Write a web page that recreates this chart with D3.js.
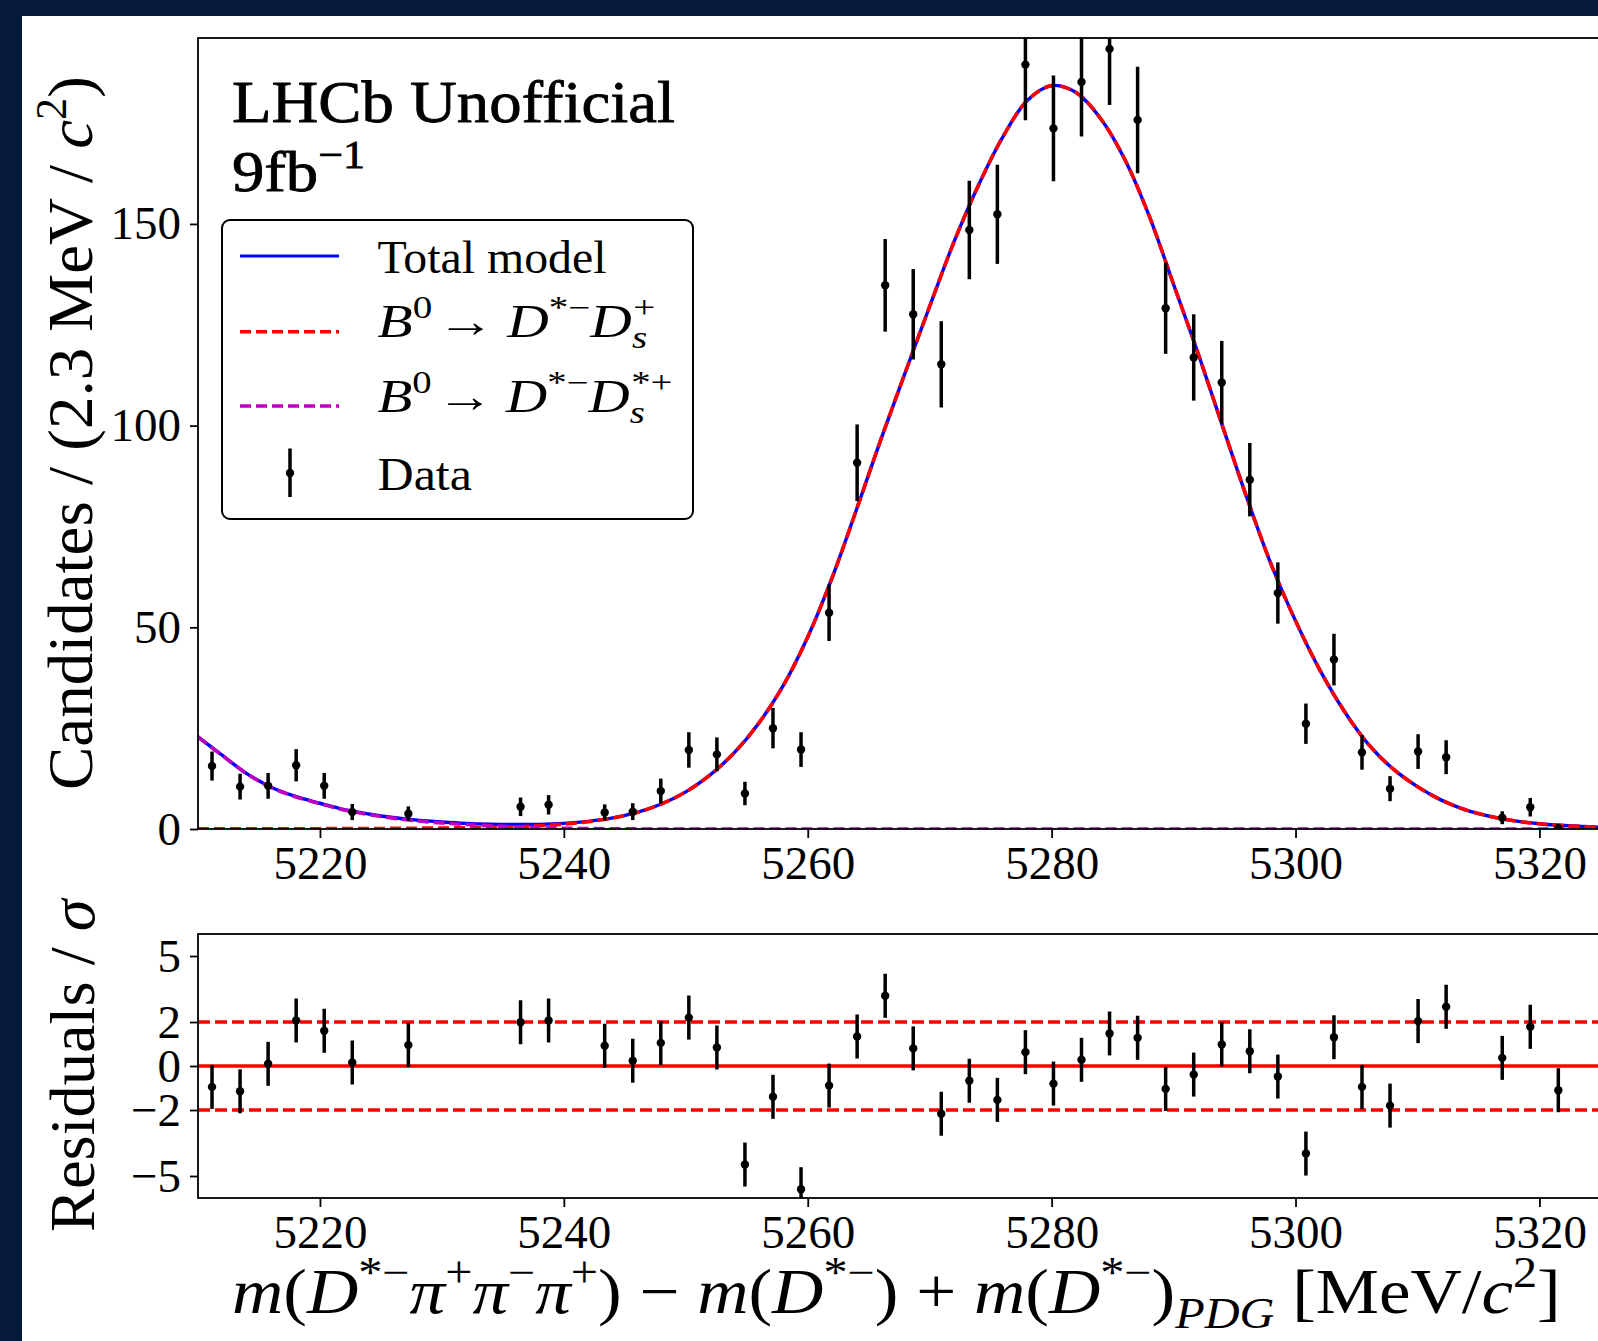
<!DOCTYPE html>
<html>
<head>
<meta charset="utf-8">
<script src="https://cdn.jsdelivr.net/npm/d3@7"></script>
<style>
  body { margin: 0; padding: 0; background: #061a3c; }
  svg { display: block; }
</style>
</head>
<body>
<svg id="chart" width="1598" height="1341"></svg>
<script>
// ---------------- DATA ----------------
// Bin centres (MeV/c^2) of non-empty bins, 2.3 MeV bins from 5210 to 5325
const massCenters = [5211.15, 5213.45, 5215.75, 5218.05, 5220.35, 5222.65, 5227.25,
  5236.45, 5238.75, 5243.35, 5245.65, 5247.95, 5250.25, 5252.55, 5254.85, 5257.15,
  5259.45, 5261.75, 5264.05, 5266.35, 5268.65, 5270.95, 5273.25, 5275.55, 5277.85,
  5280.15, 5282.45, 5284.75, 5287.05, 5289.35, 5291.65, 5293.95, 5296.25, 5298.55,
  5300.85, 5303.15, 5305.45, 5307.75, 5310.05, 5312.35, 5316.95, 5319.25, 5321.55];
const candidates = [15.6, 10.5, 10.7, 15.8, 10.7, 4.2, 3.8,
  5.5, 6.0, 4.1, 4.3, 9.4, 19.6, 18.5, 8.8, 25.0,
  19.7, 53.6, 90.8, 134.8, 127.6, 115.2, 148.5, 152.4, 189.5,
  173.7, 185.2, 193.4, 175.8, 129.1, 116.9, 110.7, 86.6, 58.5,
  26.1, 42.0, 19.0, 10.0, 19.2, 17.8, 2.8, 5.4, 0.2];
const candidateErr = [3.6, 3.2, 3.2, 4.0, 3.2, 2.0, 1.8,
  2.3, 2.4, 2.0, 2.1, 3.1, 4.4, 4.2, 2.9, 5.0,
  4.3, 7.0, 9.5, 11.5, 11.2, 10.7, 12.2, 12.3, 13.8,
  13.1, 13.5, 13.9, 13.2, 11.3, 10.7, 10.3, 9.1, 7.6,
  5.0, 6.4, 4.3, 3.1, 4.3, 4.2, 1.6, 2.3, 0.0];
const residuals = [-0.95, -1.15, 0.10, 2.07, 1.60, 0.16, 0.95,
  1.99, 2.07, 0.92, 0.24, 1.05, 2.20, 0.84, -4.48, -1.40,
  -5.60, -0.89, 1.34, 3.19, 0.80, -2.17, -0.67, -1.54, 0.63,
  -0.80, 0.28, 1.48, 1.28, -1.04, -0.39, 0.98, 0.67, -0.48,
  -3.98, 1.31, -0.95, -1.80, 2.04, 2.69, 0.37, 1.78, -1.10];
const residualErr = 1.0;

// Model curves
const modelMass = [5210, 5212, 5214, 5216, 5218, 5220, 5222, 5224, 5226, 5228,
  5230, 5232, 5234, 5236, 5238, 5240, 5242, 5244, 5246, 5248,
  5250, 5252, 5254, 5256, 5258, 5260, 5262, 5264, 5266, 5268,
  5270, 5272, 5274, 5276, 5278, 5280, 5282, 5284, 5286, 5288,
  5290, 5292, 5294, 5296, 5298, 5300, 5302, 5304, 5306, 5308,
  5310, 5312, 5314, 5316, 5318, 5320, 5322, 5324, 5325];
const signalModel = [0.02, 0.03, 0.04, 0.05, 0.06, 0.08, 0.1, 0.12, 0.15, 0.2,
  0.25, 0.3, 0.4, 0.55, 0.8, 1.2, 1.8, 2.7, 4.1, 6.2,
  9.2, 13.4, 19.0, 26.3, 35.6, 47.6, 62.3, 79.2, 96.6, 113.2,
  129.6, 145.6, 159.6, 171.6, 180.6, 184.3, 182.6, 176.2, 166.0, 152.0,
  135.0, 118.0, 100.0, 82.2, 65.6, 51.6, 39.4, 29.2, 20.9, 14.9,
  10.5, 7.1, 4.7, 3.1, 2.0, 1.3, 0.85, 0.55, 0.45];
const partRecoModel = [22.8, 18.2, 13.7, 10.3, 8.0, 6.3, 4.7, 3.6, 2.7, 2.0,
  1.5, 1.1, 0.8, 0.55, 0.35, 0.2, 0.1, 0.05, 0.02, 0,
  0, 0, 0, 0, 0, 0, 0, 0, 0, 0,
  0, 0, 0, 0, 0, 0, 0, 0, 0, 0,
  0, 0, 0, 0, 0, 0, 0, 0, 0, 0,
  0, 0, 0, 0, 0, 0, 0, 0, 0];
const totalModel = [22.82, 18.23, 13.74, 10.35, 8.06, 6.38, 4.8, 3.72, 2.85, 2.2,
  1.75, 1.4, 1.2, 1.1, 1.15, 1.4, 1.9, 2.75, 4.12, 6.2,
  9.2, 13.4, 19.0, 26.3, 35.6, 47.6, 62.3, 79.2, 96.6, 113.2,
  129.6, 145.6, 159.6, 171.6, 180.6, 184.3, 182.6, 176.2, 166.0, 152.0,
  135.0, 118.0, 100.0, 82.2, 65.6, 51.6, 39.4, 29.2, 20.9, 14.9,
  10.5, 7.1, 4.7, 3.1, 2.0, 1.3, 0.85, 0.55, 0.45];

const xTicks = [5220, 5240, 5260, 5280, 5300, 5320];
const yMainTicks = [0, 50, 100, 150];
const yResTicks = [-5, -2, 0, 2, 5];
const residualBands = [-2, 2];

// ---------------- LAYOUT ----------------
const FONT = '"Liberation Serif", "DejaVu Serif", serif';
const svg = d3.select("#chart");
const W = 1598, H = 1341;

svg.append("rect").attr("width", W).attr("height", H).attr("fill", "#061a3c");
svg.append("rect").attr("x", 22).attr("y", 16).attr("width", W - 22).attr("height", H - 16).attr("fill", "#ffffff");

const x = d3.scaleLinear().domain([5210, 5325]).range([198, 1600.4]);
const yM = d3.scaleLinear().domain([0, 196.1]).range([829, 38]);
const yR = d3.scaleLinear().domain([-6, 6]).range([1198, 934]);

const defs = svg.append("defs");
defs.append("clipPath").attr("id", "clipMain").append("rect")
  .attr("x", x.range()[0]).attr("y", yM.range()[1])
  .attr("width", x.range()[1] - x.range()[0]).attr("height", yM.range()[0] - yM.range()[1]);
defs.append("clipPath").attr("id", "clipRes").append("rect")
  .attr("x", x.range()[0]).attr("y", yR.range()[1])
  .attr("width", x.range()[1] - x.range()[0]).attr("height", yR.range()[0] - yR.range()[1]);

const fmtMinus = d => (d < 0 ? "\u2212" + Math.abs(d) : String(d));

function styleAxis(g) {
  g.select(".domain").remove();
  g.selectAll(".tick line").attr("stroke", "#000").attr("stroke-width", 1.8);
  g.selectAll(".tick text").attr("fill", "#000").attr("font-family", FONT).attr("font-size", 47);
}

const MARK_R = 4.2, ERR_W = 3.5;

// ---------- main panel ----------
const gMain = svg.append("g");
gMain.append("g").attr("transform", `translate(0,${yM.range()[0]})`)
  .call(d3.axisBottom(x).tickValues(xTicks).tickSize(9).tickPadding(8).tickFormat(d3.format("d")))
  .call(styleAxis);
gMain.append("g").attr("transform", `translate(${x.range()[0]},0)`)
  .call(d3.axisLeft(yM).tickValues(yMainTicks).tickSize(8).tickPadding(9).tickFormat(fmtMinus))
  .call(styleAxis);

const plotMain = gMain.append("g").attr("clip-path", "url(#clipMain)");
const modelPts = (arr) => modelMass.map((m, i) => ({ m, v: arr[i] }));
const lineM = d3.line().x(d => x(d.m)).y(d => yM(d.v)).curve(d3.curveCatmullRom.alpha(0.5));

plotMain.append("path").datum(modelPts(totalModel)).attr("d", lineM)
  .attr("fill", "none").attr("stroke", "#0000ff").attr("stroke-width", 3.4);
plotMain.append("path").datum(modelPts(signalModel)).attr("d", lineM)
  .attr("fill", "none").attr("stroke", "#ff0000").attr("stroke-width", 3.6)
  .attr("stroke-dasharray", "11,5");
plotMain.append("path").datum(modelPts(partRecoModel)).attr("d", lineM)
  .attr("fill", "none").attr("stroke", "#bf00bf").attr("stroke-width", 3.6)
  .attr("stroke-dasharray", "11,5");

const dataPts = massCenters.map((m, i) => ({ m, v: candidates[i], e: candidateErr[i], r: residuals[i] }));
plotMain.selectAll("line.err").data(dataPts).join("line").attr("class", "err")
  .attr("x1", d => x(d.m)).attr("x2", d => x(d.m))
  .attr("y1", d => yM(d.v - d.e)).attr("y2", d => yM(d.v + d.e))
  .attr("stroke", "#000").attr("stroke-width", ERR_W);
plotMain.selectAll("circle.pt").data(dataPts).join("circle").attr("class", "pt")
  .attr("cx", d => x(d.m)).attr("cy", d => yM(d.v)).attr("r", MARK_R).attr("fill", "#000");

gMain.append("rect").attr("x", x.range()[0]).attr("y", yM.range()[1])
  .attr("width", x.range()[1] - x.range()[0]).attr("height", yM.range()[0] - yM.range()[1])
  .attr("fill", "none").attr("stroke", "#000").attr("stroke-width", 1.8);

// ---------- residual panel ----------
const gRes = svg.append("g");
gRes.append("g").attr("transform", `translate(0,${yR.range()[0]})`)
  .call(d3.axisBottom(x).tickValues(xTicks).tickSize(9).tickPadding(8).tickFormat(d3.format("d")))
  .call(styleAxis);
gRes.append("g").attr("transform", `translate(${x.range()[0]},0)`)
  .call(d3.axisLeft(yR).tickValues(yResTicks).tickSize(8).tickPadding(9).tickFormat(fmtMinus))
  .call(styleAxis);

const plotRes = gRes.append("g").attr("clip-path", "url(#clipRes)");
plotRes.append("line").attr("x1", x.range()[0]).attr("x2", x.range()[1])
  .attr("y1", yR(0)).attr("y2", yR(0)).attr("stroke", "#ff0000").attr("stroke-width", 3.6);
plotRes.selectAll("line.band").data(residualBands).join("line").attr("class", "band")
  .attr("x1", x.range()[0]).attr("x2", x.range()[1])
  .attr("y1", d => yR(d)).attr("y2", d => yR(d))
  .attr("stroke", "#ff0000").attr("stroke-width", 3.6).attr("stroke-dasharray", "12,5");
plotRes.selectAll("line.rerr").data(dataPts).join("line").attr("class", "rerr")
  .attr("x1", d => x(d.m)).attr("x2", d => x(d.m))
  .attr("y1", d => yR(d.r - residualErr)).attr("y2", d => yR(d.r + residualErr))
  .attr("stroke", "#000").attr("stroke-width", ERR_W);
plotRes.selectAll("circle.rpt").data(dataPts).join("circle").attr("class", "rpt")
  .attr("cx", d => x(d.m)).attr("cy", d => yR(d.r)).attr("r", MARK_R).attr("fill", "#000");

gRes.append("rect").attr("x", x.range()[0]).attr("y", yR.range()[1])
  .attr("width", x.range()[1] - x.range()[0]).attr("height", yR.range()[0] - yR.range()[1])
  .attr("fill", "none").attr("stroke", "#000").attr("stroke-width", 1.8);

// ---------- rich text helper ----------
function rich(textSel, parts, fs) {
  let off = 0;
  parts.forEach(p => {
    const target = p.sup ? -0.40 * fs : (p.sub ? 0.24 * fs : 0);
    const ts = textSel.append("tspan").text(p.t);
    if (target !== off) { ts.attr("dy", target - off); off = target; }
    if (p.sup || p.sub) ts.attr("font-size", (p.scale || 0.68) * fs);
    if (p.i) ts.attr("font-style", "italic");
    if (p.dx) ts.attr("dx", p.dx);
  });
}
function fitText(textSel, x0, y0, rot, targetW) {
  const bb = textSel.node().getBBox();
  const s = targetW / bb.width;
  textSel.attr("transform", `translate(${x0},${y0}) rotate(${rot}) scale(${s},1) translate(${-bb.x},0)`);
}
function makeText(parent, parts, fs, extra) {
  const t = parent.append("text").attr("x", 0).attr("y", 0)
    .attr("font-family", FONT).attr("font-size", fs).attr("fill", "#000");
  if (extra) extra(t);
  rich(t, parts, fs);
  return t;
}

// ---------- title ----------
const tTitle = makeText(svg, [{ t: "LHCb Unofficial" }], 60, t => t.attr("stroke", "#000").attr("stroke-width", 0.8));
fitText(tTitle, 232, 122, 0, 443);
const tLumi = makeText(svg, [{ t: "9fb" }, { t: "\u22121", sup: true }], 58, t => t.attr("stroke", "#000").attr("stroke-width", 0.8));
fitText(tLumi, 232, 191, 0, 133);

// ---------- legend ----------
const leg = svg.append("g");
leg.append("rect").attr("x", 222).attr("y", 220).attr("width", 471).attr("height", 299)
  .attr("rx", 8).attr("fill", "#fff").attr("stroke", "#000").attr("stroke-width", 2);
const arrowParts = [{ t: "\u2192", dx: 4 }, { t: "D", i: true, dx: 10 }];
const legendItems = [
  { label: [{ t: "Total model" }], y: 256, base: 273, w: 229, stroke: "#0000ff", dash: null },
  { label: [{ t: "B", i: true }, { t: "0", sup: true }].concat(arrowParts, [{ t: "*\u2212", sup: true },
            { t: "D", i: true }, { t: "s", sub: true, i: true }, { t: "+", sup: true, dx: -11 }]),
    y: 331.7, base: 336.7, w: 278, stroke: "#ff0000", dash: "11,5" },
  { label: [{ t: "B", i: true }, { t: "0", sup: true }].concat(arrowParts, [{ t: "*\u2212", sup: true },
            { t: "D", i: true }, { t: "s", sub: true, i: true }, { t: "*+", sup: true, dx: -11 }]),
    y: 406, base: 411.7, w: 295, stroke: "#bf00bf", dash: "11,5" },
  { label: [{ t: "Data" }], y: 473, base: 490, w: 94.5, stroke: null, dash: null }
];
legendItems.forEach(it => {
  if (it.stroke) {
    const l = leg.append("line").attr("x1", 240).attr("x2", 339).attr("y1", it.y).attr("y2", it.y)
      .attr("stroke", it.stroke).attr("stroke-width", it.dash ? 3.4 : 3.2);
    if (it.dash) l.attr("stroke-dasharray", it.dash);
  } else {
    leg.append("line").attr("x1", 290).attr("x2", 290).attr("y1", 448.5).attr("y2", 497)
      .attr("stroke", "#000").attr("stroke-width", ERR_W);
    leg.append("circle").attr("cx", 290).attr("cy", it.y).attr("r", MARK_R).attr("fill", "#000");
  }
  const t = makeText(leg, it.label, 46);
  fitText(t, 377.5, it.base, 0, it.w);
});

// ---------- axis labels ----------
const yLabMain = makeText(svg, [{ t: "Candidates / (2.3 MeV / " }, { t: "c", i: true }, { t: "2", sup: true }, { t: ")" }], 64);
fitText(yLabMain, 92, 790, -90, 714);
const yLabRes = makeText(svg, [{ t: "Residuals / " }, { t: "\u03c3", i: true }], 64);
fitText(yLabRes, 94, 1232, -90, 335);
const xLab = makeText(svg, [
  { t: "m", i: true }, { t: "(" }, { t: "D", i: true }, { t: "*\u2212", sup: true },
  { t: "\u03c0", i: true }, { t: "+", sup: true }, { t: "\u03c0", i: true }, { t: "\u2212", sup: true },
  { t: "\u03c0", i: true }, { t: "+", sup: true }, { t: ") \u2212 " },
  { t: "m", i: true }, { t: "(" }, { t: "D", i: true }, { t: "*\u2212", sup: true }, { t: ") + " },
  { t: "m", i: true }, { t: "(" }, { t: "D", i: true }, { t: "*\u2212", sup: true }, { t: ")" },
  { t: "PDG", sub: true, i: true }, { t: " [MeV/" }, { t: "c", i: true }, { t: "2", sup: true }, { t: "]" }
], 64);
fitText(xLab, 232, 1313, 0, 1329);
</script>
</body>
</html>
